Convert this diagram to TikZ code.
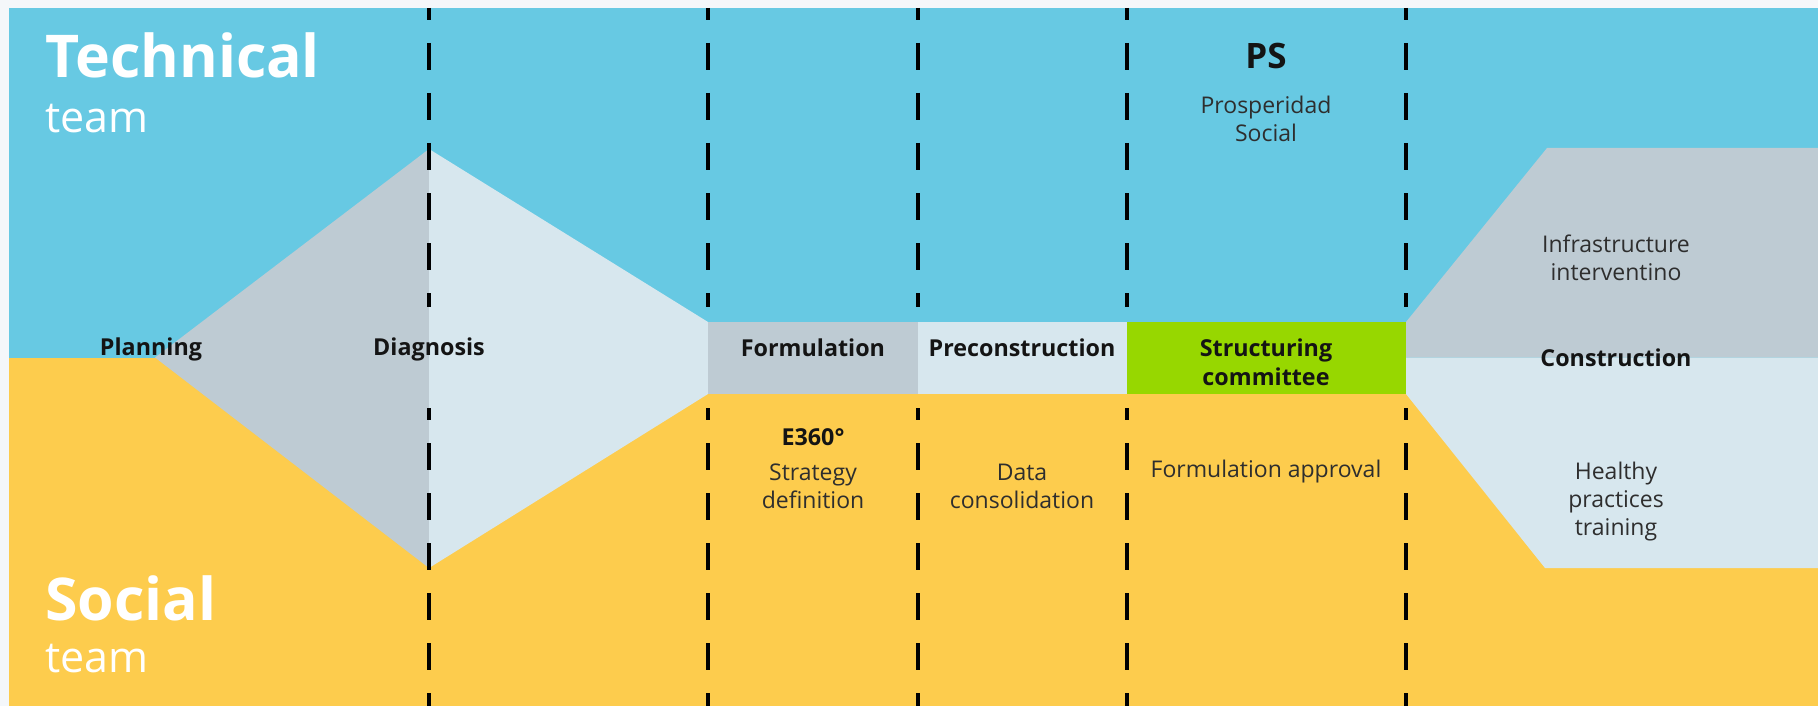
\documentclass[tikz,border=0pt]{standalone}
\usepackage{fontspec}
\setmainfont{Open Sans}
\usetikzlibrary{positioning}

\begin{document}
\begin{tikzpicture}[x=1pt, y=-1pt,
  team/.style={font=\fontsize{59}{59}\selectfont\bfseries, text=white, anchor=base west, inner sep=0pt},
  teamsub/.style={font=\fontsize{43}{43}\selectfont, text=white, anchor=base west, inner sep=0pt},
  phase/.style={font=\fontsize{23.3}{29}\selectfont\bfseries, text=black!92, align=center, inner sep=0pt},
  note/.style={font=\fontsize{23}{28}\selectfont, text=black!82, align=center, inner sep=0pt},
  divider/.style={black, line width=3.2pt, dash pattern=on 27pt off 23pt, dash phase=15pt}]

  % Define colors
  \definecolor{pagebg}{RGB}{244,247,250}
  \definecolor{techblue}{RGB}{103,201,227}
  \definecolor{socialyellow}{RGB}{253,204,77}
  \definecolor{phasegray}{RGB}{190,203,211}
  \definecolor{phaselight}{RGB}{215,231,238}
  \definecolor{committeegreen}{RGB}{151,215,0}

  \useasboundingbox (0,0) rectangle (1818,706);

  % Team backgrounds
  \fill[pagebg] (0,0) rectangle (1818,706);
  \fill[techblue] (9,8) rectangle (1818,357.5);
  \fill[socialyellow] (9,357.5) rectangle (1818,706);

  % Planning / diagnosis diamond
  \fill[phasegray] (155,357.5) -- (429,149) -- (429,568) -- cycle;
  \fill[phaselight] (429,149) -- (708,322) -- (708,394) -- (429,568) -- cycle;

  % Phase band
  \fill[phasegray] (708,322) rectangle (918,394);
  \fill[phaselight] (918,322) rectangle (1127,394);
  \fill[committeegreen] (1127,322) rectangle (1406,394);

  % Construction
  \fill[phasegray] (1406,322) -- (1547,148) -- (1818,148) -- (1818,357.5) -- (1406,357.5) -- cycle;
  \fill[phaselight] (1406,357.5) -- (1818,357.5) -- (1818,568) -- (1545,568) -- (1406,394) -- cycle;

  % Dividers, broken around the band
  \foreach \x in {429,708,918,1127,1406} {
    \draw[divider] (\x,8) -- (\x,307);
    \draw[divider] (\x,408) -- (\x,706);
  }

  % Teams
  \node[team] (technical) at (45,78) {Technical};
  \node[teamsub] (techteam) at (45,132) {team};
  \node[team] (social) at (45,620) {Social};
  \node[teamsub] (socialteam) at (45,672) {team};

  % Phase labels
  \node[phase] (planning) at (151,349) {Planning};
  \node[phase] (diagnosis) at (429,349) {Diagnosis};
  \node[phase] (formulation) at (813,348) {Formulation};
  \node[phase] (preconstruction) at (1022,348) {Preconstruction};
  \node[phase] (committee) at (1266,362) {Structuring\\committee};
  \node[phase] (construction) at (1616,358) {Construction};

  % Technical side
  \node[font=\fontsize{35}{35}\selectfont\bfseries, text=black!92, inner sep=0pt] (ps) at (1266,56) {PS};
  \node[note] (prosperidad) at (1266,119) {Prosperidad\\Social};
  \node[note] (infrastructure) at (1616,258) {Infrastructure\\interventino};

  % Social side
  \node[phase] (e360) at (813,437) {E360°};
  \node[note] (strategy) at (813,486) {Strategy\\definition};
  \node[note] (data) at (1022,486) {Data\\consolidation};
  \node[note] (approval) at (1266,472) {Formulation approval};
  \node[note] (healthy) at (1616,502) {Healthy\\practices\\training};

\end{tikzpicture}
\end{document}
